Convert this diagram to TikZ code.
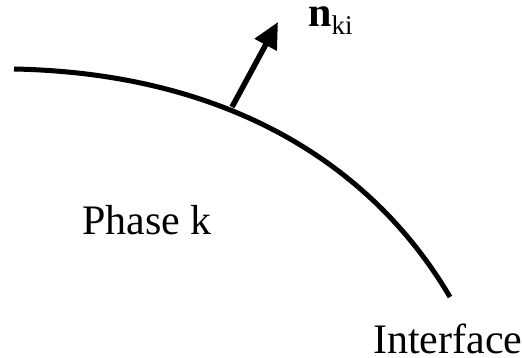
\documentclass[tikz,border=0pt]{standalone}
\usepackage{fontspec}
\setmainfont{Liberation Serif}
\usetikzlibrary{arrows.meta}
\begin{document}
\begin{tikzpicture}[x=1pt,y=-1pt,
  lbl/.style={anchor=base west,inner sep=0pt,font=\fontsize{42}{42}\selectfont},
  curveline/.style={line width=5pt,line cap=butt},
  normalarrow/.style={line width=5.5pt,-{Triangle[length=26pt,width=24pt]}}]
\useasboundingbox (0,0) rectangle (522,358);
\coordinate (cstart) at (14,69);
\coordinate (cend) at (450,297);
\draw[curveline] (cstart) .. controls (234,73.4) and (375,169.5) .. (cend);
\coordinate (base) at (232,107);
\coordinate (tip) at (278,22);
\draw[normalarrow] (base) -- (tip);
\node[lbl] (nki) at (308,27) {\textbf{n}\raisebox{-8pt}{\fontsize{27}{27}\selectfont ki}};
\node[lbl] (phase) at (82,235) {Phase k};
\node[lbl] (iface) at (373,353) {Interface};
\end{tikzpicture}
\end{document}
